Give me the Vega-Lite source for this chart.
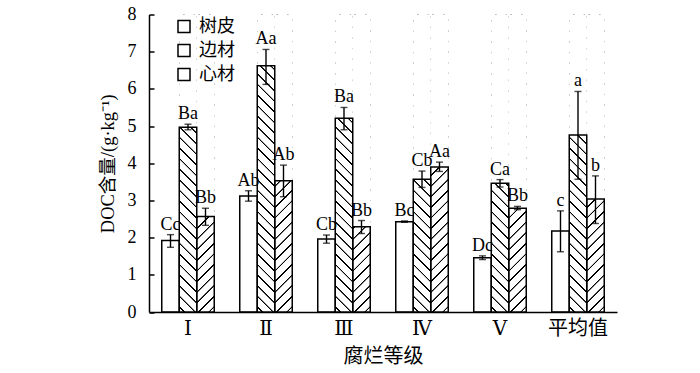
{
"$schema":"https://vega.github.io/schema/vega-lite/v6.json",
"width":468,"height":297.5,
"autosize":{"type":"none"},
"padding":{"left":149,"top":14.5,"right":83,"bottom":61},
"background":"white",
"config":{"view":{"stroke":null},"font":"Liberation Serif"},
"data":{"values":[
{"g":"Ⅰ","s":"树皮","v":1.92,"lo":1.74,"hi":2.08,"lab":"Cc"},
{"g":"Ⅰ","s":"边材","v":4.97,"lo":4.9,"hi":5.05,"lab":"Ba"},
{"g":"Ⅰ","s":"心材","v":2.57,"lo":2.33,"hi":2.79,"lab":"Bb"},
{"g":"Ⅱ","s":"树皮","v":3.12,"lo":2.98,"hi":3.26,"lab":"Ab"},
{"g":"Ⅱ","s":"边材","v":6.62,"lo":6.12,"hi":7.06,"lab":"Aa"},
{"g":"Ⅱ","s":"心材","v":3.53,"lo":3.1,"hi":3.95,"lab":"Ab"},
{"g":"Ⅲ","s":"树皮","v":1.96,"lo":1.85,"hi":2.07,"lab":"Cb"},
{"g":"Ⅲ","s":"边材","v":5.21,"lo":4.9,"hi":5.5,"lab":"Ba"},
{"g":"Ⅲ","s":"心材","v":2.29,"lo":2.11,"hi":2.46,"lab":"Bb"},
{"g":"Ⅳ","s":"树皮","v":2.43,"lo":2.41,"hi":2.45,"lab":"Bc"},
{"g":"Ⅳ","s":"边材","v":3.57,"lo":3.35,"hi":3.79,"lab":"Cb"},
{"g":"Ⅳ","s":"心材","v":3.9,"lo":3.78,"hi":4.03,"lab":"Aa"},
{"g":"Ⅴ","s":"树皮","v":1.46,"lo":1.41,"hi":1.51,"lab":"Dc"},
{"g":"Ⅴ","s":"边材","v":3.46,"lo":3.36,"hi":3.56,"lab":"Ca"},
{"g":"Ⅴ","s":"心材","v":2.79,"lo":2.75,"hi":2.84,"lab":"Bb"},
{"g":"平均值","s":"树皮","v":2.18,"lo":1.62,"hi":2.72,"lab":"c"},
{"g":"平均值","s":"边材","v":4.76,"lo":3.57,"hi":5.93,"lab":"a"},
{"g":"平均值","s":"心材","v":3.04,"lo":2.38,"hi":3.66,"lab":"b"}
]},
"encoding":{
"x":{"field":"g","type":"nominal","sort":["Ⅰ","Ⅱ","Ⅲ","Ⅳ","Ⅴ","平均值"],"scale":{"paddingInner":0.327,"paddingOuter":0.1635},
"axis":{"title":"腐烂等级","titleFont":"Noto Sans CJK SC","titleFontSize":20,"titleFontWeight":"normal","titleColor":"#000","titlePadding":8,
"labelFont":"Liberation Serif, DejaVu Serif, Noto Sans CJK SC","labelFontSize":20,"labelAngle":0,"labelColor":"#000","labelPadding":6,"ticks":false,"domainColor":"#000","domainWidth":1.5}},
"xOffset":{"field":"s","type":"nominal","sort":["树皮","边材","心材"],"scale":{"paddingInner":0,"paddingOuter":0}},
"y":{"field":"v","type":"quantitative","scale":{"domain":[0,8],"nice":false,"zero":true},
"axis":{"title":"DOC含量/(g·kg⁻¹)","titleFont":"Liberation Serif, Noto Sans CJK SC","titleFontSize":18.5,"titleFontWeight":"normal","titleColor":"#000","titlePadding":10,
"values":[0,1,2,3,4,5,6,7,8],"grid":false,"tickSize":-5,"tickWidth":1.5,"tickColor":"#000","domainColor":"#000","domainWidth":1.5,
"labelFont":"Liberation Serif","labelFontSize":18,"labelColor":"#000","labelPadding":18}}
},
"layer":[
{"transform":[{"filter":"datum.s === '边材'"}],
"mark":{"type":"bar","strokeWidth":0,"fill":{"gradient":"linear","x1":0,"y1":1,"x2":0.0835,"y2":-0.42,"stops":[
{"offset":0.010,"color":"#fff"},{"offset":0.011,"color":"#000"},{"offset":0.014,"color":"#000"},{"offset":0.015,"color":"#fff"},
{"offset":0.035,"color":"#fff"},{"offset":0.036,"color":"#000"},{"offset":0.039,"color":"#000"},{"offset":0.040,"color":"#fff"},
{"offset":0.060,"color":"#fff"},{"offset":0.061,"color":"#000"},{"offset":0.064,"color":"#000"},{"offset":0.065,"color":"#fff"},
{"offset":0.085,"color":"#fff"},{"offset":0.086,"color":"#000"},{"offset":0.089,"color":"#000"},{"offset":0.090,"color":"#fff"},
{"offset":0.110,"color":"#fff"},{"offset":0.111,"color":"#000"},{"offset":0.114,"color":"#000"},{"offset":0.115,"color":"#fff"},
{"offset":0.135,"color":"#fff"},{"offset":0.136,"color":"#000"},{"offset":0.139,"color":"#000"},{"offset":0.140,"color":"#fff"},
{"offset":0.160,"color":"#fff"},{"offset":0.161,"color":"#000"},{"offset":0.164,"color":"#000"},{"offset":0.165,"color":"#fff"},
{"offset":0.185,"color":"#fff"},{"offset":0.186,"color":"#000"},{"offset":0.189,"color":"#000"},{"offset":0.190,"color":"#fff"},
{"offset":0.210,"color":"#fff"},{"offset":0.211,"color":"#000"},{"offset":0.214,"color":"#000"},{"offset":0.215,"color":"#fff"},
{"offset":0.235,"color":"#fff"},{"offset":0.236,"color":"#000"},{"offset":0.239,"color":"#000"},{"offset":0.240,"color":"#fff"},
{"offset":0.260,"color":"#fff"},{"offset":0.261,"color":"#000"},{"offset":0.264,"color":"#000"},{"offset":0.265,"color":"#fff"},
{"offset":0.285,"color":"#fff"},{"offset":0.286,"color":"#000"},{"offset":0.289,"color":"#000"},{"offset":0.290,"color":"#fff"},
{"offset":0.310,"color":"#fff"},{"offset":0.311,"color":"#000"},{"offset":0.314,"color":"#000"},{"offset":0.315,"color":"#fff"},
{"offset":0.335,"color":"#fff"},{"offset":0.336,"color":"#000"},{"offset":0.339,"color":"#000"},{"offset":0.340,"color":"#fff"},
{"offset":0.360,"color":"#fff"},{"offset":0.361,"color":"#000"},{"offset":0.364,"color":"#000"},{"offset":0.365,"color":"#fff"},
{"offset":0.385,"color":"#fff"},{"offset":0.386,"color":"#000"},{"offset":0.389,"color":"#000"},{"offset":0.390,"color":"#fff"},
{"offset":0.410,"color":"#fff"},{"offset":0.411,"color":"#000"},{"offset":0.414,"color":"#000"},{"offset":0.415,"color":"#fff"},
{"offset":0.435,"color":"#fff"},{"offset":0.436,"color":"#000"},{"offset":0.439,"color":"#000"},{"offset":0.440,"color":"#fff"},
{"offset":0.460,"color":"#fff"},{"offset":0.461,"color":"#000"},{"offset":0.464,"color":"#000"},{"offset":0.465,"color":"#fff"},
{"offset":0.485,"color":"#fff"},{"offset":0.486,"color":"#000"},{"offset":0.489,"color":"#000"},{"offset":0.490,"color":"#fff"},
{"offset":0.510,"color":"#fff"},{"offset":0.511,"color":"#000"},{"offset":0.514,"color":"#000"},{"offset":0.515,"color":"#fff"},
{"offset":0.535,"color":"#fff"},{"offset":0.536,"color":"#000"},{"offset":0.539,"color":"#000"},{"offset":0.540,"color":"#fff"},
{"offset":0.560,"color":"#fff"},{"offset":0.561,"color":"#000"},{"offset":0.564,"color":"#000"},{"offset":0.565,"color":"#fff"},
{"offset":0.585,"color":"#fff"},{"offset":0.586,"color":"#000"},{"offset":0.589,"color":"#000"},{"offset":0.590,"color":"#fff"},
{"offset":0.610,"color":"#fff"},{"offset":0.611,"color":"#000"},{"offset":0.614,"color":"#000"},{"offset":0.615,"color":"#fff"},
{"offset":0.635,"color":"#fff"},{"offset":0.636,"color":"#000"},{"offset":0.639,"color":"#000"},{"offset":0.640,"color":"#fff"},
{"offset":0.660,"color":"#fff"},{"offset":0.661,"color":"#000"},{"offset":0.664,"color":"#000"},{"offset":0.665,"color":"#fff"},
{"offset":0.685,"color":"#fff"},{"offset":0.686,"color":"#000"},{"offset":0.689,"color":"#000"},{"offset":0.690,"color":"#fff"},
{"offset":0.710,"color":"#fff"},{"offset":0.711,"color":"#000"},{"offset":0.714,"color":"#000"},{"offset":0.715,"color":"#fff"},
{"offset":0.735,"color":"#fff"},{"offset":0.736,"color":"#000"},{"offset":0.739,"color":"#000"},{"offset":0.740,"color":"#fff"}
]}},
"encoding":{"y":{"datum":0,"type":"quantitative"},"y2":{"datum":8}}},
{"transform":[{"filter":"datum.s === '心材'"}],
"mark":{"type":"bar","strokeWidth":0,"fill":{"gradient":"linear","x1":1,"y1":1,"x2":0.9165,"y2":-0.42,"stops":[
{"offset":0.010,"color":"#fff"},{"offset":0.011,"color":"#000"},{"offset":0.014,"color":"#000"},{"offset":0.015,"color":"#fff"},
{"offset":0.035,"color":"#fff"},{"offset":0.036,"color":"#000"},{"offset":0.039,"color":"#000"},{"offset":0.040,"color":"#fff"},
{"offset":0.060,"color":"#fff"},{"offset":0.061,"color":"#000"},{"offset":0.064,"color":"#000"},{"offset":0.065,"color":"#fff"},
{"offset":0.085,"color":"#fff"},{"offset":0.086,"color":"#000"},{"offset":0.089,"color":"#000"},{"offset":0.090,"color":"#fff"},
{"offset":0.110,"color":"#fff"},{"offset":0.111,"color":"#000"},{"offset":0.114,"color":"#000"},{"offset":0.115,"color":"#fff"},
{"offset":0.135,"color":"#fff"},{"offset":0.136,"color":"#000"},{"offset":0.139,"color":"#000"},{"offset":0.140,"color":"#fff"},
{"offset":0.160,"color":"#fff"},{"offset":0.161,"color":"#000"},{"offset":0.164,"color":"#000"},{"offset":0.165,"color":"#fff"},
{"offset":0.185,"color":"#fff"},{"offset":0.186,"color":"#000"},{"offset":0.189,"color":"#000"},{"offset":0.190,"color":"#fff"},
{"offset":0.210,"color":"#fff"},{"offset":0.211,"color":"#000"},{"offset":0.214,"color":"#000"},{"offset":0.215,"color":"#fff"},
{"offset":0.235,"color":"#fff"},{"offset":0.236,"color":"#000"},{"offset":0.239,"color":"#000"},{"offset":0.240,"color":"#fff"},
{"offset":0.260,"color":"#fff"},{"offset":0.261,"color":"#000"},{"offset":0.264,"color":"#000"},{"offset":0.265,"color":"#fff"},
{"offset":0.285,"color":"#fff"},{"offset":0.286,"color":"#000"},{"offset":0.289,"color":"#000"},{"offset":0.290,"color":"#fff"},
{"offset":0.310,"color":"#fff"},{"offset":0.311,"color":"#000"},{"offset":0.314,"color":"#000"},{"offset":0.315,"color":"#fff"},
{"offset":0.335,"color":"#fff"},{"offset":0.336,"color":"#000"},{"offset":0.339,"color":"#000"},{"offset":0.340,"color":"#fff"},
{"offset":0.360,"color":"#fff"},{"offset":0.361,"color":"#000"},{"offset":0.364,"color":"#000"},{"offset":0.365,"color":"#fff"},
{"offset":0.385,"color":"#fff"},{"offset":0.386,"color":"#000"},{"offset":0.389,"color":"#000"},{"offset":0.390,"color":"#fff"},
{"offset":0.410,"color":"#fff"},{"offset":0.411,"color":"#000"},{"offset":0.414,"color":"#000"},{"offset":0.415,"color":"#fff"},
{"offset":0.435,"color":"#fff"},{"offset":0.436,"color":"#000"},{"offset":0.439,"color":"#000"},{"offset":0.440,"color":"#fff"},
{"offset":0.460,"color":"#fff"},{"offset":0.461,"color":"#000"},{"offset":0.464,"color":"#000"},{"offset":0.465,"color":"#fff"},
{"offset":0.485,"color":"#fff"},{"offset":0.486,"color":"#000"},{"offset":0.489,"color":"#000"},{"offset":0.490,"color":"#fff"},
{"offset":0.510,"color":"#fff"},{"offset":0.511,"color":"#000"},{"offset":0.514,"color":"#000"},{"offset":0.515,"color":"#fff"},
{"offset":0.535,"color":"#fff"},{"offset":0.536,"color":"#000"},{"offset":0.539,"color":"#000"},{"offset":0.540,"color":"#fff"},
{"offset":0.560,"color":"#fff"},{"offset":0.561,"color":"#000"},{"offset":0.564,"color":"#000"},{"offset":0.565,"color":"#fff"},
{"offset":0.585,"color":"#fff"},{"offset":0.586,"color":"#000"},{"offset":0.589,"color":"#000"},{"offset":0.590,"color":"#fff"},
{"offset":0.610,"color":"#fff"},{"offset":0.611,"color":"#000"},{"offset":0.614,"color":"#000"},{"offset":0.615,"color":"#fff"},
{"offset":0.635,"color":"#fff"},{"offset":0.636,"color":"#000"},{"offset":0.639,"color":"#000"},{"offset":0.640,"color":"#fff"},
{"offset":0.660,"color":"#fff"},{"offset":0.661,"color":"#000"},{"offset":0.664,"color":"#000"},{"offset":0.665,"color":"#fff"},
{"offset":0.685,"color":"#fff"},{"offset":0.686,"color":"#000"},{"offset":0.689,"color":"#000"},{"offset":0.690,"color":"#fff"},
{"offset":0.710,"color":"#fff"},{"offset":0.711,"color":"#000"},{"offset":0.714,"color":"#000"},{"offset":0.715,"color":"#fff"},
{"offset":0.735,"color":"#fff"},{"offset":0.736,"color":"#000"},{"offset":0.739,"color":"#000"},{"offset":0.740,"color":"#fff"}
]}},
"encoding":{"y":{"datum":0,"type":"quantitative"},"y2":{"datum":8}}},
{"transform":[{"filter":"datum.s !== '树皮'"}],
"mark":{"type":"bar","fill":"#fff","strokeWidth":0},
"encoding":{"y":{"field":"v","type":"quantitative"},"y2":{"datum":8}}},
{"mark":{"type":"bar","fill":"transparent","stroke":"#000","strokeWidth":1.5}},
{"mark":{"type":"bar","strokeWidth":0},
"encoding":{"y":{"datum":0,"type":"quantitative"},"y2":{"datum":0},
"fill":{"field":"s","type":"nominal","scale":{"domain":["树皮","边材","心材"],"range":["#fff","#fff","#fff"]},
"legend":{"orient":"none","legendX":26,"legendY":3,"title":null,"symbolType":"square","symbolSize":144,"labelFont":"Noto Sans CJK SC","labelFontSize":18,"labelColor":"#000","labelOffset":6,"rowPadding":6,"padding":0,
"encode":{"symbols":{"update":{"stroke":{"value":"#000"},"strokeWidth":{"value":1.5},"opacity":{"value":1},
"fill":{"signal":"datum.value === '边材' ? {gradient:'linear',x1:0,y1:1,x2:1,y2:0,stops:[{offset:0.11,color:'#fff'},{offset:0.13,color:'#000'},{offset:0.17,color:'#000'},{offset:0.19,color:'#fff'},{offset:0.46,color:'#fff'},{offset:0.48,color:'#000'},{offset:0.52,color:'#000'},{offset:0.54,color:'#fff'},{offset:0.81,color:'#fff'},{offset:0.83,color:'#000'},{offset:0.87,color:'#000'},{offset:0.89,color:'#fff'}]} : datum.value === '心材' ? {gradient:'linear',x1:1,y1:1,x2:0,y2:0,stops:[{offset:0.11,color:'#fff'},{offset:0.13,color:'#000'},{offset:0.17,color:'#000'},{offset:0.19,color:'#fff'},{offset:0.46,color:'#fff'},{offset:0.48,color:'#000'},{offset:0.52,color:'#000'},{offset:0.54,color:'#fff'},{offset:0.81,color:'#fff'},{offset:0.83,color:'#000'},{offset:0.87,color:'#000'},{offset:0.89,color:'#fff'}]} : '#fff'"}}}}}}}},
{"mark":{"type":"rule","color":"#000","strokeWidth":1.4},
"encoding":{"y":{"field":"lo","type":"quantitative"},"y2":{"field":"hi"}}},
{"mark":{"type":"tick","orient":"horizontal","size":7,"thickness":1.4,"color":"#000"},
"encoding":{"y":{"field":"lo","type":"quantitative"}}},
{"mark":{"type":"tick","orient":"horizontal","size":7,"thickness":1.4,"color":"#000"},
"encoding":{"y":{"field":"hi","type":"quantitative"}}},
{"mark":{"type":"text","font":"Liberation Serif","fontSize":18,"baseline":"alphabetic","dy":-5,"color":"#000"},
"encoding":{"y":{"field":"hi","type":"quantitative"},"text":{"field":"lab"}}}
]
}
